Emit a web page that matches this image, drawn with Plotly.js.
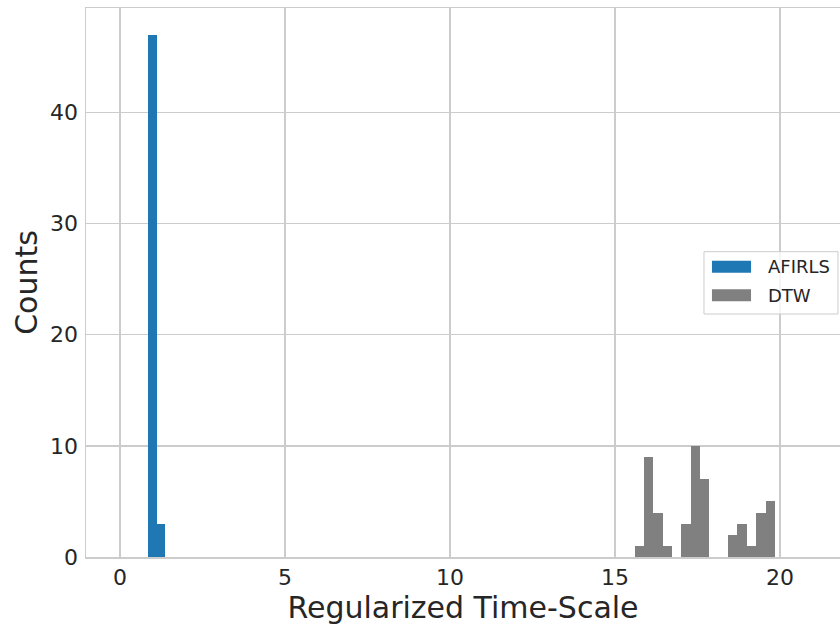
<!DOCTYPE html>
<html>
<head>
<meta charset="utf-8">
<script src="https://cdn.plot.ly/plotly-3.0.1.min.js"></script>
<style>
  html, body { margin: 0; padding: 0; background: #ffffff; overflow: hidden; }
  #chart { width: 840px; height: 625px; }
</style>
</head>
<body>
<div id="chart"></div>
<script>
// Histogram bin centres and counts for each method
const afirlsBinWidth = 0.26;
const afirlsBins = [0.989, 1.249];
const afirlsCounts = [47, 3];

const dtwBinWidth = 0.283;
const dtwBins = [15.742, 16.025, 16.308, 16.591, 16.874, 17.157, 17.440, 17.723,
                 18.006, 18.289, 18.572, 18.855, 19.138, 19.421, 19.704];
const dtwCounts = [1, 9, 4, 1, 0, 3, 10, 7, 0, 0, 2, 3, 1, 4, 5];

const seriesNames = ['AFIRLS', 'DTW'];
const seriesColors = ['#1f77b4', '#808080'];

const xTicks = [0, 5, 10, 15, 20];
const yTicks = [0, 10, 20, 30, 40];

const textColor = '#262626';
const gridColor = '#cccccc';
const font = 'DejaVu Sans, sans-serif';

const traces = [
  {
    type: 'bar', name: seriesNames[0],
    x: afirlsBins, y: afirlsCounts, width: afirlsBinWidth,
    marker: { color: seriesColors[0], line: { width: 0 } }
  },
  {
    type: 'bar', name: seriesNames[1],
    x: dtwBins, y: dtwCounts, width: dtwBinWidth,
    marker: { color: seriesColors[1], line: { width: 0 } }
  }
];

// Legend box with wide colour patches, placed in paper coordinates
const legendBox = { x0: 0.8196, x1: 0.9973, y0: 0.4426, y1: 0.5561 };
const patchX = [0.8302, 0.8820];
const rowY = [0.5288, 0.4767];
const patchHalf = 0.0110;
const labelX = 0.9019;

const shapes = [
  {
    type: 'rect', xref: 'paper', yref: 'paper',
    x0: legendBox.x0, x1: legendBox.x1, y0: legendBox.y0, y1: legendBox.y1,
    fillcolor: 'rgba(255,255,255,0.8)', line: { color: gridColor, width: 1 }, layer: 'above'
  }
];
const annotations = [];
seriesNames.forEach((name, i) => {
  shapes.push({
    type: 'rect', xref: 'paper', yref: 'paper',
    x0: patchX[0], x1: patchX[1], y0: rowY[i] - patchHalf, y1: rowY[i] + patchHalf,
    fillcolor: seriesColors[i], line: { width: 0 }, layer: 'above'
  });
  annotations.push({
    xref: 'paper', yref: 'paper', x: labelX, y: rowY[i],
    xanchor: 'left', yanchor: 'middle', showarrow: false,
    text: name, font: { family: font, size: 18, color: textColor }
  });
});

const layout = {
  width: 840, height: 625,
  margin: { l: 86, r: 0, t: 8, b: 68 },
  paper_bgcolor: '#ffffff', plot_bgcolor: '#ffffff',
  font: { family: font, color: textColor },
  barmode: 'overlay', bargap: 0,
  showlegend: false,
  shapes: shapes,
  annotations: annotations,
  xaxis: {
    range: [-1.03, 21.82],
    tickvals: xTicks, ticktext: xTicks.map(String),
    showgrid: true, gridcolor: gridColor, gridwidth: 1.3,
    zeroline: false,
    showline: true, linecolor: gridColor, linewidth: 1.5, mirror: true,
    ticks: '', ticklabelstandoff: 0,
    tickfont: { family: font, size: 22, color: textColor },
    title: { text: 'Regularized Time-Scale', font: { family: font, size: 30, color: textColor }, standoff: 6 }
  },
  yaxis: {
    range: [0, 49.4],
    tickvals: yTicks, ticktext: yTicks.map(String),
    showgrid: true, gridcolor: gridColor, gridwidth: 1.3,
    zeroline: false,
    showline: true, linecolor: gridColor, linewidth: 1.5, mirror: false,
    ticks: '', ticklabelstandoff: 2,
    tickfont: { family: font, size: 22, color: textColor },
    title: { text: 'Counts', font: { family: font, size: 30, color: textColor }, standoff: 3 }
  }
};

Plotly.newPlot('chart', traces, layout, { displayModeBar: false, staticPlot: true });
</script>
</body>
</html>
